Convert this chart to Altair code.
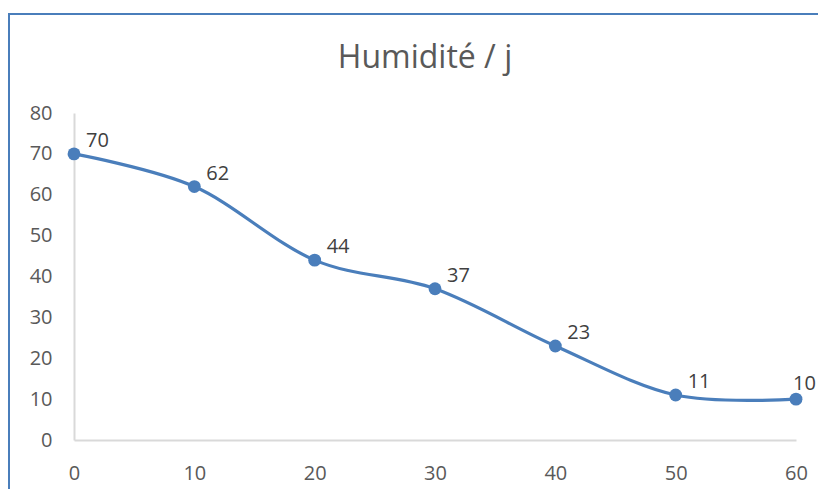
import altair as alt
import pandas as pd

days = [0, 10, 20, 30, 40, 50, 60]
humidity = [70, 62, 44, 37, 23, 11, 10]
x_ticks = [0, 10, 20, 30, 40, 50, 60]
y_ticks = [0, 10, 20, 30, 40, 50, 60, 70, 80]
title_text = "Humidité / j"

df = pd.DataFrame({"jour": days, "humidite": humidity})
frame_df = pd.DataFrame({"k": [0]})

BLUE = "#4A7EBB"
FONT = "Open Sans"

x_enc = alt.X("jour:Q", scale=alt.Scale(domain=[0, 60], nice=False, zero=False),
              axis=alt.Axis(values=x_ticks, title=None, grid=False, ticks=False, tickSize=0,
                            labelPadding=23, labelFlush=False, domainColor="#d9d9d9", domainWidth=2,
                            labelColor="#595959", labelFont=FONT, labelFontSize=20))
y_enc = alt.Y("humidite:Q", scale=alt.Scale(domain=[0, 80], nice=False),
              axis=alt.Axis(values=y_ticks, title=None, grid=False, ticks=False, tickSize=0,
                            labelPadding=22, domainColor="#d9d9d9", domainWidth=2,
                            labelColor="#595959", labelFont=FONT, labelFontSize=20))

base = alt.Chart(df)

line = base.mark_line(interpolate="cardinal", tension=0, color=BLUE, strokeWidth=3.2).encode(
    x=x_enc, y=y_enc)
points = base.mark_point(filled=True, size=165, color=BLUE, opacity=1).encode(
    x="jour:Q", y="humidite:Q")
labels = base.transform_filter("datum.jour < 60").mark_text(
    align="left", baseline="middle", dx=12, dy=-13, font=FONT, fontSize=20, color="#404040"
).encode(x="jour:Q", y="humidite:Q", text="humidite:Q")
last_label = base.transform_filter("datum.jour == 60").mark_text(
    align="left", baseline="middle", dx=-3, dy=-15, font=FONT, fontSize=20, color="#404040"
).encode(x="jour:Q", y="humidite:Q", text="humidite:Q")

frame = alt.Chart(frame_df).mark_rect(filled=False, stroke=BLUE, strokeWidth=2).encode(
    x=alt.value(-65), x2=alt.value(800), y=alt.value(-99), y2=alt.value(500))

chart = alt.layer(frame, line, points, labels, last_label).properties(
    width=722, height=327,
    background="white",
    title=alt.TitleParams(title_text, font=FONT, fontSize=32, fontWeight="normal",
                          color="#595959", anchor="middle", dx=-10, baseline="alphabetic",
                          frame="group", offset=-87),
    autosize=alt.AutoSizeParams(type="none"),
    padding={"left": 66, "top": 105, "right": 22, "bottom": 49},
).configure_view(stroke="transparent", strokeWidth=0)

chart.save("out.html", embed_options={"renderer": "svg", "actions": False})
